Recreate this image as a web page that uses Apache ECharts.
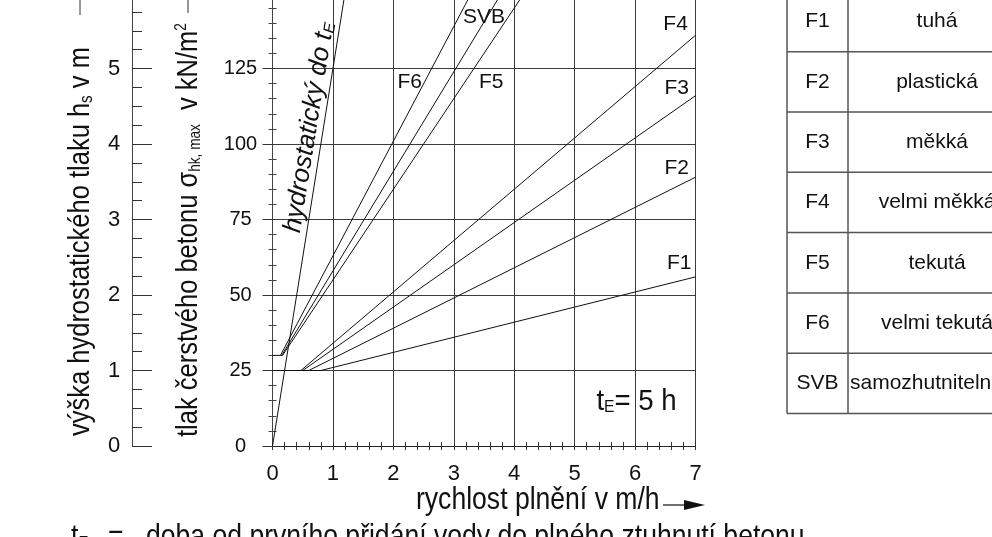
<!DOCTYPE html>
<html>
<head>
<meta charset="utf-8">
<script src="https://cdn.jsdelivr.net/npm/echarts@6/dist/echarts.min.js"></script>
<style>
  html, body { margin: 0; padding: 0; background: #fff; }
  #chart { width: 992px; height: 537px; }
</style>
</head>
<body>
<div id="chart"></div>
<script>
// Lateral pressure of fresh concrete on formwork (DIN 18218 style diagram), t_E = 5 h

// axis ticks
const rateTicks = [0, 1, 2, 3, 4, 5, 6, 7];              // rychlost plnění v m/h
const pressureTicks = [0, 25, 50, 75, 100, 125, 150, 175]; // kN/m²
const headTicks = [0, 1, 2, 3, 4, 5, 6, 7];              // h_s v m

// design lines: [rate m/h, pressure kN/m²]
const hydrostatic = [[0, 0], [1.4, 175]];
const lineF1 = [[0, 25], [0.8, 25], [7, 56]];
const lineF2 = [[0.6, 25], [7, 89]];
const lineF3 = [[0.5, 25], [7, 116]];
const lineF4 = [[0.47, 25], [7, 136]];
const lineF5 = [[0, 30], [0.167, 30], [5, 175]];
const lineF6 = [[0.132, 30], [3.95, 175]];
const lineSVB = [[0.152, 30], [4.55, 175]];

// consistency classes for the side table
const classes = ['F1', 'F2', 'F3', 'F4', 'F5', 'F6', 'SVB'];
const classNames = ['tuhá', 'plastická', 'měkká', 'velmi měkká', 'tekutá', 'velmi tekutá', 'samozhutnitelná'];

// where each line's tag sits, in [rate, pressure]
const lineTags = [
  { text: 'F4', at: [6.67, 139.6] },
  { text: 'F3', at: [6.69, 118.5] },
  { text: 'F2', at: [6.69, 92] },
  { text: 'F1', at: [6.73, 60.6] },
  { text: 'F6', at: [2.27, 120.5] },
  { text: 'F5', at: [3.62, 120.5] },
  { text: 'SVB', at: [3.5, 142] }
];

const SANS = '"Liberation Sans", Arial, sans-serif';
const INK = '#111';
const GRID = '#3c3c3c';
// condensed look for the titles: regular face squeezed horizontally
const SQUEEZE = 0.83;
const SQUEEZE_Y = 0.85;

const chart = echarts.init(document.getElementById('chart'), null, { renderer: 'canvas' });

function curve(data) {
  return {
    type: 'line', data, xAxisIndex: 0, yAxisIndex: 0,
    symbol: 'none', showSymbol: false, silent: true, clip: true, z: 5,
    lineStyle: { color: INK, width: 1 }
  };
}

const xMin = rateTicks[0], xMax = rateTicks[rateTicks.length - 1];
const yMin = pressureTicks[0], yMax = pressureTicks[pressureTicks.length - 1];
const hMin = headTicks[0], hMax = headTicks[headTicks.length - 1];

const option = {
  animation: false,
  backgroundColor: '#fff',
  grid: { left: 272.5, right: 296.5, top: -82.5, bottom: 91, containLabel: false, outerBoundsMode: 'none' },
  xAxis: [
    {
      type: 'value', min: xMin, max: xMax, interval: 1, position: 'bottom',
      axisLine: { show: true, onZero: false, lineStyle: { color: '#222', width: 1 } },
      axisTick: { show: true, length: 4, lineStyle: { color: '#333' } },
      minorTick: { show: true, splitNumber: 5, length: 4, lineStyle: { color: '#333' } },
      splitLine: { show: true, lineStyle: { color: GRID, width: 1 } },
      axisLabel: { fontSize: 22, fontFamily: SANS, color: INK, margin: 17 }
    },
    {
      type: 'value', min: xMin, max: xMax, interval: 1, position: 'bottom',
      axisLine: { show: false },
      axisTick: { show: true, inside: true, length: 4, lineStyle: { color: '#333' } },
      minorTick: { show: true, splitNumber: 5, length: 4, lineStyle: { color: '#333' } },
      splitLine: { show: false },
      axisLabel: { show: false }
    }
  ],
  yAxis: [
    {
      type: 'value', min: yMin, max: yMax, interval: 25, position: 'left',
      axisLine: { show: true, onZero: false, lineStyle: { color: '#444', width: 1 } },
      axisTick: { show: true, length: 10, lineStyle: { color: '#333' } },
      minorTick: { show: true, splitNumber: 5, length: 4, lineStyle: { color: '#444' } },
      splitLine: { show: true, lineStyle: { color: GRID, width: 1 } },
      axisLabel: { fontSize: 20, fontFamily: SANS, color: INK, align: 'center', margin: 32 }
    },
    {
      type: 'value', min: hMin, max: hMax, interval: 1, position: 'left', offset: 140.5,
      axisLine: { show: true, onZero: false, lineStyle: { color: '#444', width: 1 } },
      axisTick: { show: true, inside: true, length: 20, lineStyle: { color: '#333' } },
      minorTick: { show: true, splitNumber: 4, length: 10, lineStyle: { color: '#333' } },
      splitLine: { show: false },
      axisLabel: { fontSize: 22, fontFamily: SANS, color: INK, align: 'center', margin: 18 }
    },
    {
      type: 'value', min: yMin, max: yMax, interval: 25, position: 'left',
      axisLine: { show: false },
      axisTick: { show: true, inside: true, length: 4, lineStyle: { color: '#333' } },
      minorTick: { show: true, splitNumber: 5, length: 4, lineStyle: { color: '#444' } },
      splitLine: { show: false },
      axisLabel: { show: false }
    }
  ],
  series: [
    curve(hydrostatic), curve(lineF1), curve(lineF2), curve(lineF3),
    curve(lineF4), curve(lineF5), curve(lineF6), curve(lineSVB)
  ]
};

chart.setOption(option);

const toPx = (p) => chart.convertToPixel({ xAxisIndex: 0, yAxisIndex: 0 }, p);
const graphics = [];

function txt(x, y, text, style, rotation, squeeze) {
  graphics.push({
    type: 'text', x, y, rotation: rotation || 0, scaleX: squeeze || 1, silent: true, z: 20,
    style: Object.assign({ text, fill: INK, align: 'left', verticalAlign: 'middle' }, style)
  });
}
function seg(x1, y1, x2, y2, color, w) {
  graphics.push({
    type: 'line', silent: true, z: 20,
    shape: { x1, y1, x2, y2 },
    style: { stroke: color || INK, lineWidth: w || 1 }
  });
}

// tags next to the lines
lineTags.forEach(t => {
  const p = toPx(t.at);
  txt(p[0], p[1], t.text, { fontSize: 21, fontFamily: SANS, align: 'center' });
});

// hydrostatic label running along the steep line
(function () {
  const a = toPx(hydrostatic[0]);
  const b = toPx(hydrostatic[1]);
  const ang = Math.atan2(a[1] - b[1], b[0] - a[0]);
  const start = toPx([70 / 125, 70]);
  const gap = 1;
  const ux = -Math.sin(ang), uy = -Math.cos(ang);
  graphics.push({
    type: 'text', x: start[0] + ux * gap, y: start[1] + uy * gap, rotation: ang, silent: true, z: 20,
    style: {
      text: 'hydrostatický do t{e|E}', fill: INK, align: 'left', verticalAlign: 'bottom',
      fontSize: 26, lineHeight: 26, fontStyle: 'italic', fontFamily: SANS,
      rich: { e: { fontSize: 16, lineHeight: 10, verticalAlign: 'bottom', fontStyle: 'italic', fontFamily: SANS } }
    }
  });
})();

// t_E = 5 h inside the plot
(function () {
  const p = toPx([5.36, 14.8]);
  txt(p[0], p[1], '{m|t}{s|E}{m|= 5 h}', {
    fontSize: 30, lineHeight: 30, fontFamily: SANS,
    rich: {
      m: { fontSize: 30, lineHeight: 30, fontFamily: SANS },
      s: { fontSize: 17, lineHeight: 11, verticalAlign: 'bottom', fontFamily: SANS }
    }
  }, 0, 0.92);
})();

// y axis titles, rotated
txt(81, 436, 'výška hydrostatického tlaku h{s|s} v m', {
  fontSize: 30, lineHeight: 30, fontFamily: SANS,
  rich: { s: { fontSize: 18, lineHeight: 10, verticalAlign: 'bottom', fontFamily: SANS } }
}, Math.PI / 2, SQUEEZE_Y);
seg(80, 15, 80, -60, '#333', 1);

txt(188.5, 437, 'tlak čerstvého betonu σ{s|hk, max}  v kN/m{p|2}', {
  fontSize: 30, lineHeight: 30, fontFamily: SANS,
  rich: {
    s: { fontSize: 16, lineHeight: 10, verticalAlign: 'bottom', fontFamily: SANS },
    p: { fontSize: 16, lineHeight: 14, verticalAlign: 'top', fontFamily: SANS }
  }
}, Math.PI / 2, SQUEEZE_Y);
seg(188, 13, 188, -60, '#333', 1);

// x axis title with arrow
txt(416, 500, 'rychlost plnění v m/h', { fontSize: 32, fontFamily: SANS }, 0, SQUEEZE);
seg(663, 505, 688, 505, INK, 1.2);
graphics.push({
  type: 'polygon', silent: true, z: 20,
  shape: { points: [[684, 500], [705, 505], [684, 510]] },
  style: { fill: INK }
});

// note under the chart
txt(71, 537, '{m|t}{s|E}', {
  fontSize: 32, lineHeight: 32, fontFamily: SANS,
  rich: {
    m: { fontSize: 32, lineHeight: 32, fontFamily: SANS },
    s: { fontSize: 18, lineHeight: 11, verticalAlign: 'bottom', fontFamily: SANS }
  }
}, 0, SQUEEZE);
txt(108, 537, '=', { fontSize: 32, fontFamily: SANS }, 0, SQUEEZE);
txt(146, 537, 'doba od prvního přidání vody do plného ztuhnutí betonu', { fontSize: 32, fontFamily: SANS }, 0, SQUEEZE);

// consistency table
(function () {
  const left = 787, split = 848, right = 1040, top = -8.6, rowH = 60.3;
  const stroke = '#555', lw = 1.5;
  const bottom = top + rowH * classes.length;
  seg(left, top - rowH, left, bottom, stroke, lw);
  seg(split, top - rowH, split, bottom, stroke, lw);
  for (let k = 0; k <= classes.length; k++) {
    seg(left, top + k * rowH, right, top + k * rowH, stroke, lw);
  }
  classes.forEach((c, i) => {
    const cy = top + (i + 0.5) * rowH;
    txt((left + split) / 2, cy, c, { fontSize: 21, fontFamily: SANS, align: 'center' });
    const name = classNames[i];
    const fits = name.length < 13;
    txt(fits ? 937 : split + 2, cy, name, { fontSize: 21, fontFamily: SANS, align: fits ? 'center' : 'left' });
  });
})();

chart.setOption({ graphic: { elements: graphics } });
</script>
</body>
</html>
